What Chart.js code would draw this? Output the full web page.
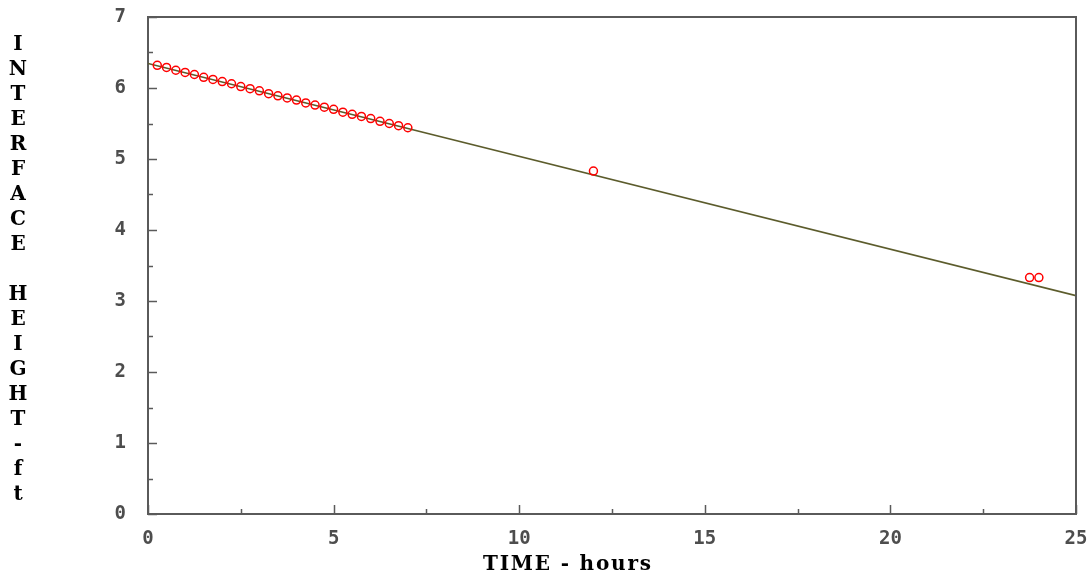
<!DOCTYPE html>
<html><head><meta charset="utf-8">
<script src="https://cdn.jsdelivr.net/npm/chart.js@4"></script>
<style>html,body{margin:0;padding:0;background:#fff}#wrap{width:1092px;height:580px}</style>
</head><body><div id="wrap"><canvas id="c" width="1092" height="580"></canvas></div>
<script>
const timeHours = [0.25,0.5,0.75,1.0,1.25,1.5,1.75,2.0,2.25,2.5,2.75,3.0,3.25,3.5,3.75,4.0,4.25,4.5,4.75,5.0,5.25,5.5,5.75,6.0,6.25,6.5,6.75,7.0,12.0,23.75,24.0];
const heightFt  = [6.32,6.29,6.25,6.22,6.19,6.15,6.12,6.09,6.06,6.02,5.99,5.96,5.92,5.89,5.86,5.83,5.79,5.76,5.73,5.70,5.66,5.63,5.60,5.57,5.53,5.50,5.47,5.44,4.83,3.33,3.33];
const fitTime = [0, 25];
const fitHeight = [6.345, 3.075];
const xTickValues = [0,5,10,15,20,25];
const xMinorTicks = [2.5,7.5,12.5,17.5,22.5];
const yTickValues = [0,1,2,3,4,5,6,7];
const yMinorTicks = [0.5,1.5,2.5,3.5,4.5,5.5,6.5];
const yTitleChars = ['I','N','T','E','R','F','A','C','E',' ','H','E','I','G','H','T','-','f','t'];
const xTitle = 'TIME - hours';

const tickFont = {family:'"DejaVu Sans Mono", monospace', size:19, weight:'bold'};

const framePlugin = {
  id:'frame',
  afterDraw(chart){
    const {ctx, chartArea:a, scales:{x, y}} = chart;
    ctx.save();
    ctx.strokeStyle = '#5a5a5a';
    ctx.lineWidth = 2;
    ctx.beginPath();
    ctx.moveTo(a.left, a.top); ctx.lineTo(a.right, a.top); ctx.lineTo(a.right, a.bottom);
    ctx.stroke();
    ctx.lineWidth = 1.5;
    const seg = (x1,y1,x2,y2)=>{ctx.beginPath();ctx.moveTo(x1,y1);ctx.lineTo(x2,y2);ctx.stroke();};
    yTickValues.forEach(v=>{const p=Math.round(y.getPixelForValue(v))+0.5; seg(a.left, p, a.left+9, p);});
    yMinorTicks.forEach(v=>{const p=Math.round(y.getPixelForValue(v))+0.5; seg(a.left, p, a.left+5, p);});
    xTickValues.forEach(v=>{const p=Math.round(x.getPixelForValue(v))+0.5; seg(p, a.bottom, p, a.bottom-9);});
    xMinorTicks.forEach(v=>{const p=Math.round(x.getPixelForValue(v))+0.5; seg(p, a.bottom, p, a.bottom-5);});
    // y title stacked
    ctx.fillStyle = '#000';
    ctx.font = 'bold 20px "DejaVu Serif", serif';
    ctx.textAlign = 'center';
    ctx.textBaseline = 'middle';
    yTitleChars.forEach((ch,i)=>{ ctx.fillText(ch, 18, 45 + 25*i); });
    // x title
    ctx.font = 'bold 20px "DejaVu Serif", serif';
    const w0 = ctx.measureText(xTitle).width;
    const sp = Math.max(0, (168 - w0) / (xTitle.length - 1));
    ctx.letterSpacing = sp + 'px';
    ctx.textAlign = 'center';
    ctx.fillText(xTitle, 567 + sp/2, 565);
    ctx.restore();
  }
};

new Chart(document.getElementById('c'), {
  type:'scatter',
  data:{
    datasets:[
      {
        label:'measured',
        data: timeHours.map((t,i)=>({x:t, y:heightFt[i]})),
        pointStyle:'circle', pointRadius:4, pointHoverRadius:4,
        borderColor:'#ff0000', backgroundColor:'rgba(0,0,0,0)', borderWidth:1.5,
        showLine:false, order:0
      },
      {
        label:'fit',
        data: fitTime.map((t,i)=>({x:t, y:fitHeight[i]})),
        showLine:true, pointRadius:0, borderColor:'#5c5c2c', borderWidth:1.6,
        order:1
      }
    ]
  },
  options:{
    responsive:false, animation:false, devicePixelRatio:1,
    layout:{padding:{left:0, right:16, top:17, bottom:0}},
    plugins:{legend:{display:false}, tooltip:{enabled:false}, title:{display:false}},
    scales:{
      x:{
        type:'linear', min:0, max:25,
        afterFit(s){ s.height = 66; },
        afterBuildTicks(s){ s.ticks = xTickValues.map(v=>({value:v})); },
        grid:{display:false, drawTicks:true, tickLength:14},
        border:{display:true, color:'#5a5a5a', width:2},
        ticks:{padding:0, color:'#4d4d4d', font:tickFont, maxRotation:0, callback:v=>String(v)}
      },
      y:{
        type:'linear', min:0, max:7,
        afterFit(s){ s.width = 148; },
        afterBuildTicks(s){ s.ticks = yTickValues.map(v=>({value:v})); },
        grid:{display:false, drawTicks:true, tickLength:22},
        border:{display:true, color:'#5a5a5a', width:2},
        ticks:{padding:0, color:'#4d4d4d', font:tickFont, callback:v=>String(v)}
      }
    }
  },
  plugins:[framePlugin]
});
</script>
</body></html>
